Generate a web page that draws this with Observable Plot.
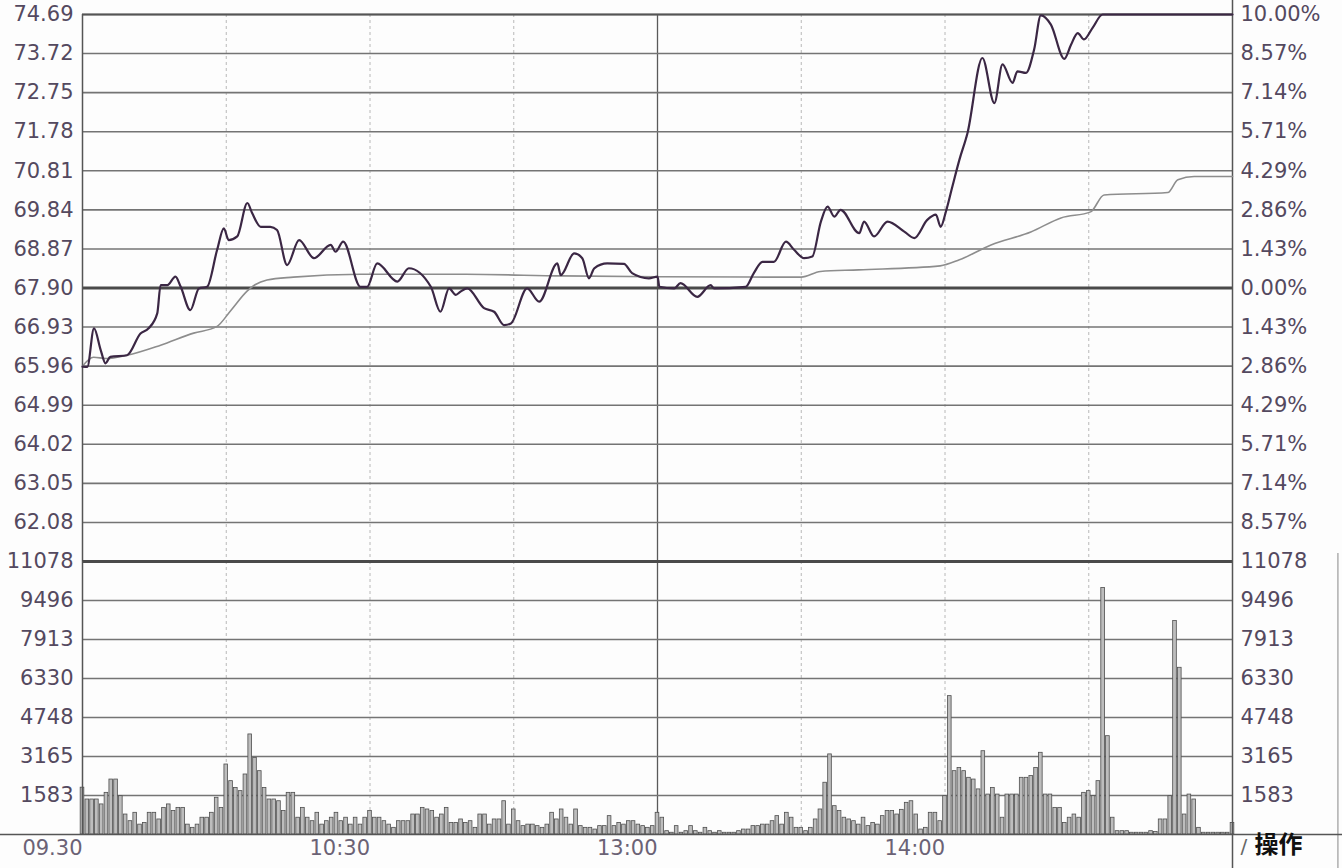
<!DOCTYPE html>
<html><head><meta charset="utf-8">
<script src="https://cdn.jsdelivr.net/npm/d3@7"></script>
<script src="https://cdn.jsdelivr.net/npm/@observablehq/plot@0.6"></script>
<style>
html,body{margin:0;padding:0;background:#fdfdfd;}
#wrap{position:relative;width:1342px;height:868px;overflow:hidden;background:#fdfdfd;}
#price,#vol{position:absolute;left:0;}
#price{top:0;}
#vol{top:541px;}
</style></head>
<body><div id="wrap"><div id="price"></div><div id="vol"></div></div>
<script>
// ---------- data ----------
const prevClose = 67.90;
const priceTicks = [74.69, 73.72, 72.75, 71.78, 70.81, 69.84, 68.87, 67.90, 66.93, 65.96, 64.99, 64.02, 63.05, 62.08];
const pctLabels = ["10.00%", "8.57%", "7.14%", "5.71%", "4.29%", "2.86%", "1.43%", "0.00%", "1.43%", "2.86%", "4.29%", "5.71%", "7.14%", "8.57%"];
const volTicks = [11078, 9496, 7913, 6330, 4748, 3165, 1583];
const timeTickMinutes = [0, 60, 120, 180];
const timeTickLabels = ["09.30", "10:30", "13:00", "14:00"];
const gridMinutes = [30, 60, 90, 150, 180, 210];
const breakMinute = 120;

// price line vertices (minutes since 09:30, price)
const priceMinute = [0, 1, 2.4, 3.8, 4.8, 5.8, 9.3, 12.1, 13.8, 15.6, 16.3, 17.7, 19.4, 20.5, 22.5, 24.3, 26, 28.1, 29.5, 30.5, 32.3, 34.4, 35.4, 37.2, 39.2, 40.6, 42.7, 45.2, 48.3, 51.8, 52.8, 54.4, 58, 59.4, 61.5, 65.7, 68.1, 72.7, 74.7, 76.5, 77.9, 78.9, 80.3, 83.8, 85.9, 88, 89.4, 92.8, 95.3, 99.1, 99.8, 102.6, 104.3, 105.7, 106.8, 109.5, 113, 114.7, 118.2, 120, 120.4, 123.5, 124.8, 128.3, 131.1, 131.8, 138.4, 140.1, 141.9, 144.3, 146.8, 148.5, 150.6, 152.3, 154.1, 155.5, 156.9, 158.2, 162.1, 163.1, 165.2, 168, 171.5, 173.6, 176.3, 178.1, 179.1, 180.2, 181.5, 183, 184.7, 187.8, 190.3, 192, 194.1, 195.1, 196.9, 198.6, 200, 202.1, 204.9, 206.3, 207.7, 209, 210.8, 212.9, 240];
const priceValue = [65.95, 65.94, 66.90, 66.36, 66.03, 66.19, 66.23, 66.77, 66.90, 67.27, 67.97, 67.97, 68.18, 67.93, 67.35, 67.89, 67.93, 68.85, 69.38, 69.09, 69.18, 70.01, 69.76, 69.42, 69.42, 69.34, 68.47, 69.09, 68.64, 68.97, 68.80, 69.05, 67.93, 67.93, 68.51, 68.06, 68.39, 67.93, 67.31, 67.89, 67.73, 67.81, 67.89, 67.40, 67.31, 66.98, 67.02, 67.89, 67.56, 68.51, 68.22, 68.76, 68.64, 68.14, 68.39, 68.51, 68.50, 68.27, 68.14, 68.18, 67.93, 67.89, 68.02, 67.68, 67.97, 67.89, 67.93, 68.27, 68.55, 68.55, 69.05, 68.85, 68.64, 68.68, 69.55, 69.92, 69.67, 69.84, 69.26, 69.55, 69.18, 69.55, 69.30, 69.14, 69.59, 69.72, 69.42, 69.80, 70.40, 71.08, 71.75, 73.61, 72.49, 73.45, 72.99, 73.28, 73.24, 73.82, 74.67, 74.44, 73.59, 73.94, 74.23, 74.07, 74.36, 74.69, 74.69];

// average price line vertices
const avgMinute = [0, 2.3, 5, 9.3, 16.3, 23.2, 28, 31, 34.4, 36, 38.5, 44, 58, 80, 100, 120, 150, 154, 162, 179, 183, 189.6, 197.9, 204.2, 210.4, 213.2, 226.5, 228.6, 232, 240];
const avgValue = [65.96, 66.18, 66.15, 66.23, 66.48, 66.78, 66.94, 67.35, 67.83, 67.98, 68.10, 68.17, 68.24, 68.24, 68.20, 68.18, 68.17, 68.31, 68.35, 68.45, 68.60, 68.97, 69.29, 69.64, 69.79, 70.21, 70.27, 70.59, 70.67, 70.67];

// volume per minute (index = minutes since 09:30)
const volume = [
 1900,1420,1420,1420,1220,1690,2230,2230,1555,810,
 540,880,400,470,880,880,610,1080,1220,950,
 1080,1080,400,270,400,680,680,880,1490,1080,
 2840,2165,1890,1760,2435,4060,3110,2570,1890,1420,
 1420,1350,950,1690,1690,680,1080,680,540,880,
 400,540,680,880,540,680,400,680,400,680,
 950,680,680,540,400,270,540,540,540,810,
 810,1080,1015,950,680,810,1080,470,470,610,
 470,540,270,810,810,400,610,610,1350,400,
 1015,540,340,400,400,340,270,400,880,610,
 1015,680,400,1015,340,270,270,200,340,340,
 745,340,470,400,540,540,400,340,270,340,
 880,680,135,70,340,70,135,340,135,70,
 270,135,70,135,70,70,70,135,200,200,
 340,340,400,400,540,745,400,880,680,270,
 270,135,270,610,1015,2100,3250,1150,950,680,
 610,540,400,680,340,470,400,745,950,950,
 810,1000,1285,1350,810,200,270,880,880,540,
 1555,5615,2570,2700,2570,2300,2230,1830,3380,1620,
 1890,1620,680,1620,1620,1620,2300,2300,2370,2700,
 3315,1620,1620,1080,1080,470,680,810,680,1690,
 1760,1555,2165,10000,3990,680,135,135,135,70,
 70,70,70,135,100,610,610,1555,8660,6765,
 810,1620,1420,270,70,70,70,70,70,70,
 470
];

// ---------- build tables ----------
const priceData = priceMinute.map((t, i) => ({t, p: priceValue[i]}));
const avgData = avgMinute.map((t, i) => ({t, p: avgValue[i]}));
const volData = volume.map((v, t) => ({t, v}));
const pctMap = new Map(priceTicks.map((v, i) => [v, pctLabels[i]]));
const timeMap = new Map(timeTickMinutes.map((m, i) => [m, timeTickLabels[i]]));

const W = 1342, ML = 82, MR = 110;
const font = {fontFamily: "'DejaVu Sans', sans-serif", fontSize: "21px", color: "#54495f", background: "transparent", overflow: "visible"};
const gridStyle = {stroke: "#b8b8b8", strokeDasharray: "3,3", strokeWidth: 1};

// ---------- price panel ----------
const priceChart = Plot.plot({
  width: W, height: 561,
  marginTop: 14, marginBottom: 0, marginLeft: ML, marginRight: MR,
  style: font,
  x: {domain: [0, 240], axis: null},
  y: {domain: [61.11, 74.69], axis: null},
  marks: [
    Plot.ruleX(gridMinutes, gridStyle),
    Plot.ruleX([breakMinute], {stroke: "#5a5a5a", strokeWidth: 1.3}),
    Plot.ruleY(priceTicks, {stroke: "#747474", strokeWidth: 1.6}),
    Plot.ruleY([priceTicks[0]], {stroke: "#555", strokeWidth: 2.2}),
    Plot.ruleY([prevClose], {stroke: "#4a4a4a", strokeWidth: 2.8}),
    Plot.ruleX([0], {stroke: "#555", strokeWidth: 1.5}),
    Plot.ruleX([240], {y1: 61.11, y2: 75.2, stroke: "#555", strokeWidth: 1.5}),
    Plot.line(avgData, {x: "t", y: "p", stroke: "#8d8d8d", strokeWidth: 1.6, curve: "monotone-x"}),
    Plot.line(priceData, {x: "t", y: "p", stroke: "#3b2744", strokeWidth: 2.2, curve: "monotone-x"}),
    Plot.axisY(priceTicks, {anchor: "left", label: null, tickSize: 0, tickPadding: 9, tickFormat: d => d.toFixed(2)}),
    Plot.axisY(priceTicks, {anchor: "right", label: null, tickSize: 0, tickPadding: 8, tickFormat: d => pctMap.get(d)})
  ]
});
document.getElementById("price").appendChild(priceChart);

// ---------- volume panel ----------
const volChart = Plot.plot({
  width: W, height: 327,
  marginTop: 20, marginBottom: 34, marginLeft: ML, marginRight: MR,
  style: font,
  x: {domain: [0, 240], axis: null},
  y: {domain: [0, 11078], axis: null},
  marks: [
    Plot.ruleX(gridMinutes, {...gridStyle, y1: 0, y2: 11078}),
    Plot.ruleX([breakMinute], {y1: 0, y2: 11078, stroke: "#5a5a5a", strokeWidth: 1.3}),
    Plot.ruleY(volTicks, {stroke: "#747474", strokeWidth: 1.6}),
    Plot.ruleY([volTicks[0]], {stroke: "#4a4a4a", strokeWidth: 2.8}),
    Plot.rectY(volData, {x1: d => d.t - 0.38, x2: d => d.t + 0.38, y: "v", fill: "#bdbdbd", stroke: "#4e4e4e", strokeWidth: 0.8}),
    Plot.ruleX([0], {y1: 0, y2: 11078, stroke: "#555", strokeWidth: 1.5}),
    Plot.ruleX([240], {y1: -1400, y2: 11078, stroke: "#555", strokeWidth: 1.5}),
    Plot.ruleX([262], {y1: -1400, y2: 11400, stroke: "#9a9a9a", strokeWidth: 1.2}),
    Plot.ruleY([0], {x1: -17.5, x2: 263, stroke: "#555", strokeWidth: 1.6}),
    Plot.axisY(volTicks, {anchor: "left", label: null, tickSize: 0, tickPadding: 9, tickFormat: d => String(d)}),
    Plot.axisY(volTicks, {anchor: "right", label: null, tickSize: 0, tickPadding: 8, tickFormat: d => String(d)}),
    Plot.axisX(timeTickMinutes, {anchor: "bottom", label: null, tickSize: 0, tickPadding: 6, textAnchor: "end", fill: "#6b6275", tickFormat: d => timeMap.get(d)}),
    Plot.text(["/"], {x: 240, frameAnchor: "bottom", dy: 18, dx: 8, textAnchor: "start", fill: "#666", fontSize: 20}),
    Plot.text(["操作"], {x: 240, frameAnchor: "bottom", dy: 18, dx: 22, textAnchor: "start", fill: "#111", fontSize: 24, fontWeight: "bold", fontFamily: "'Noto Sans CJK SC', sans-serif"})
  ]
});
document.getElementById("vol").appendChild(volChart);
</script>
</body></html>
